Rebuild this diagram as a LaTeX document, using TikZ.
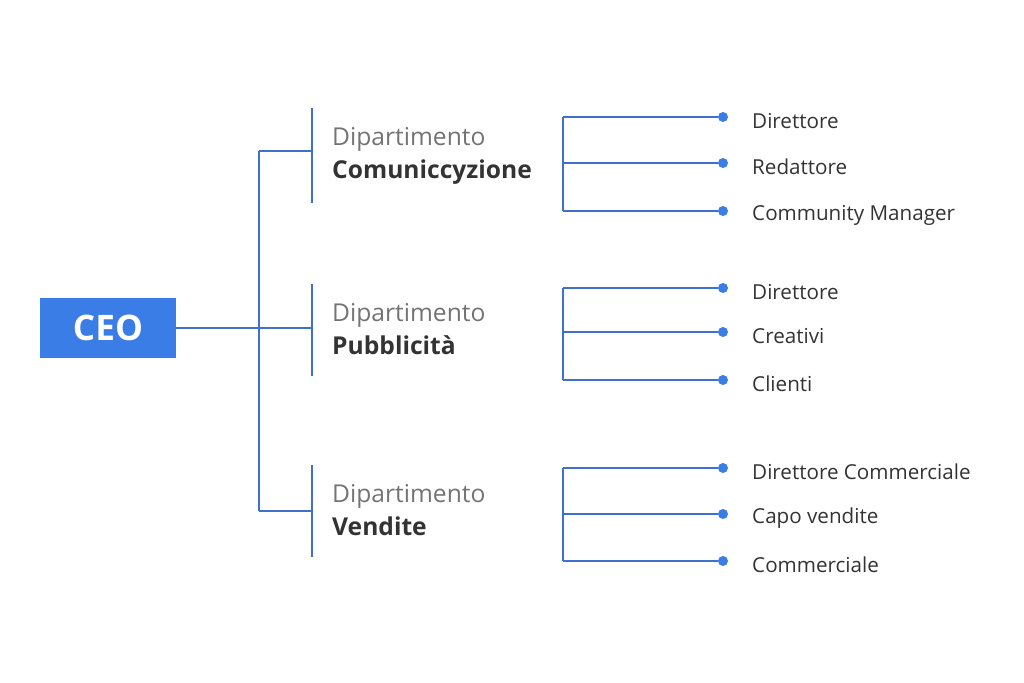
\documentclass[tikz,border=0pt]{standalone}
\usepackage{fontspec}
\setmainfont{Open Sans}
\usetikzlibrary{positioning}
\definecolor{ceoblue}{HTML}{3B7DE6}
\definecolor{linkblue}{HTML}{3F6FCF}
\definecolor{txt}{HTML}{333333}
\begin{document}
\begin{tikzpicture}[x=0.03cm,y=-0.03cm,
    link/.style = {draw=linkblue, line width=0.9pt},
    dot/.style = {circle, fill=ceoblue, inner sep=0pt, minimum size=0.3cm},
    role/.style = {anchor=west, inner sep=0pt, text=txt, font=\fontsize{17.6}{20}\selectfont},
    dept/.style = {anchor=north west, inner sep=0pt, text=txt, align=left,
                   font=\fontsize{21}{28}\selectfont}]
  \useasboundingbox (0,0) rectangle (1024,683);
  % CEO
  \node[fill=ceoblue, minimum width=4.08cm, minimum height=1.8cm, inner sep=0pt,
        text=white, font=\fontsize{30}{32}\selectfont\bfseries] (ceo) at (108,328) {CEO};
  \coordinate (hub) at (259,328);
  \draw[link] (ceo.east) -- (hub);
  \draw[link] (259,151) -- (259,511);
  % Dipartimenti
  \foreach \name/\ya/\yb/\yc/\title in {com/108/203/151/Comuniccyzione,
                                      pub/284/376/328/Pubblicità,
                                      ven/465/557/511/Vendite}{
    \coordinate (\name) at (312,\yc);
    \draw[link] (259,\yc) -- (\name);
    \draw[link] (312,\ya) -- (312,\yb);
    \node[dept] (\name-t) at (332,\ya+19) {\color{gray!90!black}Dipartimento\\\bfseries \title};
  }
  % Ruoli
  \foreach \name/\ya/\yb/\yc/\ra/\rb/\rc in {
      com/117/163/211/Direttore/Redattore/Community Manager,
      pub/288/332/380/Direttore/Creativi/Clienti,
      ven/468/514/561/Direttore Commerciale/Capo vendite/Commerciale}{
    \draw[link] (563,\ya) -- (563,\yc);
    \node[dot] (\name-a) at (723,\ya) {};
    \node[dot] (\name-b) at (723,\yb) {};
    \node[dot] (\name-c) at (723,\yc) {};
    \draw[link] (563,\ya) -- (\name-a);
    \draw[link] (563,\yb) -- (\name-b);
    \draw[link] (563,\yc) -- (\name-c);
    \node[role] at (752,\ya+4) {\ra};
    \node[role] at (752,\yb+4) {\rb};
    \node[role] at (752,\yc+4) {\rc};
  }
\end{tikzpicture}
\end{document}
